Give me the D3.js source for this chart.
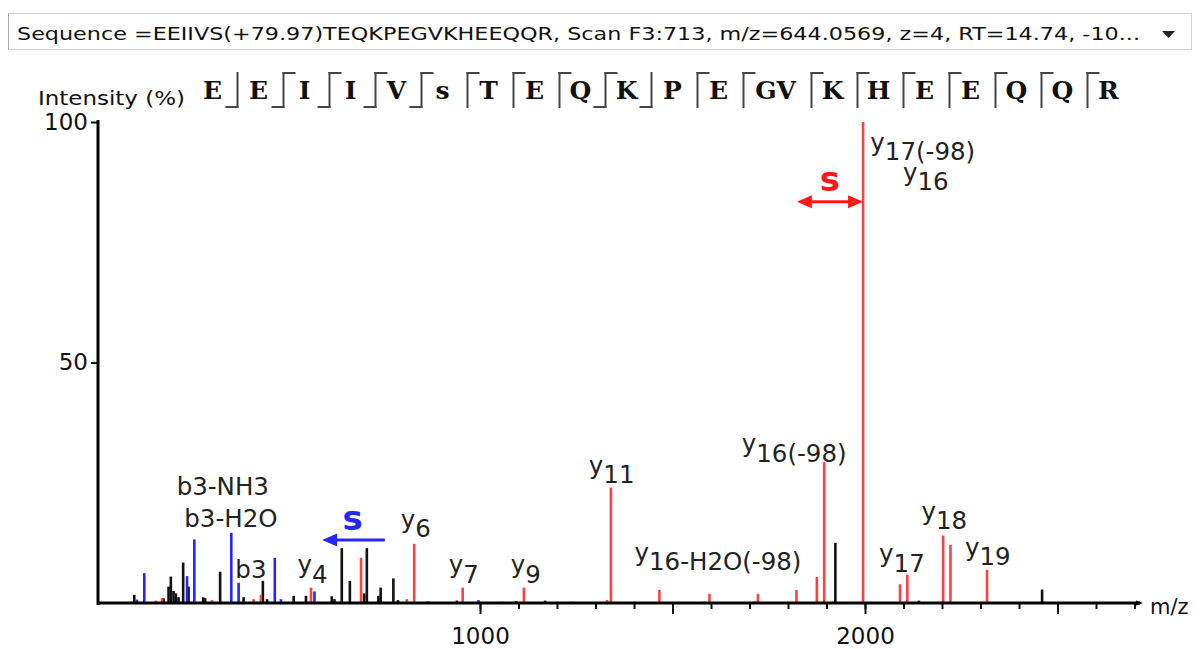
<!DOCTYPE html>
<html><head><meta charset="utf-8">
<script src="https://cdn.jsdelivr.net/npm/d3@7"></script>
<style>body{margin:0;background:#fff}svg{display:block}</style>
</head><body>
<svg id="c" width="1200" height="649"></svg>
<script>
// ---------- data ----------
const headerText = "Sequence =EEIIVS(+79.97)TEQKPEGVKHEEQQR, Scan F3:713, m/z=644.0569, z=4, RT=14.74, -10...";
const residues = ["E","E","I","I","V","s","T","E","Q","K","P","E","GV","K","H","E","E","Q","Q","R"];
const cleavages = ["b","by","by","by","by","y","y","y","by","b","y","y","y","y","y","y","y","y","y"];
const yTickValues = [50, 100];
const xTickLabels = [1000, 2000];
const xMinorTicks = d3.range(1000, 2701, 100);
const xMajorTicks = [1000, 1500, 2000, 2500];

const blueMz  = [109, 128, 239, 258, 354, 373, 467, 483, 570, 996, 1094];
const blueInt = [0.7, 6.2, 5.6, 13.2, 14.6, 4.2, 9.4, 0.8, 2.4, 0.6, 0.4];

const blackMz  = [102, 178, 191, 197, 204, 210, 217, 229, 243, 281, 286, 325, 386, 436, 447, 516, 548, 615, 622, 641, 662, 699, 706, 736, 742, 775, 787, 940, 1169, 1923, 2140, 2460];
const blackInt = [1.7, 1.0, 3.4, 5.5, 2.5, 2.0, 1.2, 8.4, 3.4, 1.2, 1.0, 6.5, 1.2, 4.6, 0.8, 1.5, 1.5, 1.4, 0.8, 11.4, 4.6, 2.0, 11.4, 1.5, 3.2, 5.1, 0.6, 0.5, 0.5, 12.5, 0.5, 2.8];

const redMz  = [158, 174, 304, 412, 431, 561, 691, 810, 829, 865, 955, 1055, 1114, 1240, 1330, 1340, 1466, 1582, 1596, 1714, 1722, 1822, 1875, 1894, 1995, 2091, 2110, 2203, 2222, 2317];
const redInt = [0.5, 1.0, 0.6, 0.8, 1.7, 3.2, 9.4, 0.8, 12.3, 0.4, 3.2, 0.3, 3.2, 0.3, 0.6, 24.0, 2.7, 0.3, 1.9, 0.3, 1.9, 2.7, 5.4, 29.3, 100, 3.9, 5.9, 14.0, 12.1, 6.9];

const labelText = ["b3-NH3","b3-H2O","b3","y4","y6","y7","y9","y11","y16-H2O(-98)","y16(-98)","y17(-98)","y16","y17","y18","y19"];
const labelMz   = [332, 353, 405, 565, 833, 958, 1119, 1342, 1618, 1816, 2150, 2158, 2096, 2206, 2319];
const labelAt   = [22.5, 15.8, 5.2, 4.2, 13.7, 4.2, 4.2, 24.9, 6.9, 29.4, 92.0, 85.8, 6.5, 15.3, 7.9];

// phospho-site shift annotations: [fromMz, toMz, atIntensity, labelMz, labelIntensity]
const blueShift = [753, 590, 13.1, 669, 15.2];
const redShift  = [1823, 1995, 83.4, 1909, 85.7];

// ---------- drawing ----------
const svg = d3.select("#c");
const FONT = "DejaVu Sans, Verdana, sans-serif";
const RED = "#ff4040", BLUE = "#2626ff", BLACK = "#111";

const x = d3.scaleLinear().domain([0, 2700]).range([95, 95 + 0.385 * 2700]);
const y = d3.scaleLinear().domain([0, 100]).range([603, 122]);

// header combobox
svg.append("rect").attr("x", 8.5).attr("y", 13.5).attr("width", 1183).attr("height", 36)
  .attr("fill", "#fff").attr("stroke", "#d4d4d4");
svg.append("line").attr("x1", 8.5).attr("x2", 8.5).attr("y1", 13.5).attr("y2", 49.5)
  .attr("stroke", "#a8a8a8");
const ht = svg.append("text").attr("x", 17).attr("y", 40).attr("font-family", FONT)
  .attr("font-size", 18).attr("fill", "#111").text(headerText);
ht.attr("textLength", 1123).attr("lengthAdjust", "spacingAndGlyphs");
svg.append("path").attr("d", "M1162,31 L1175,31 L1168.5,38 Z").attr("fill", "#222");

// intensity label
svg.append("text").attr("x", 38).attr("y", 105).attr("font-family", FONT)
  .attr("font-size", 19).attr("fill", "#111").attr("textLength", 147)
  .attr("lengthAdjust", "spacingAndGlyphs").text("Intensity (%)");

// sequence with fragment markers
const seq = svg.append("g");
let marker = 238;
let center = 212.5;
residues.forEach((r, i) => {
  const extra = (r.length - 1) * 11;
  if (i > 0) center = marker + 21 + extra;
  seq.append("text").attr("x", center).attr("y", 99).attr("text-anchor", "middle")
    .attr("font-family", "DejaVu Serif, serif").attr("font-weight", "bold")
    .attr("font-size", 25).attr("fill", "#111").text(r);
  if (i < cleavages.length) {
    marker = center + 25 + extra;
    const c = cleavages[i];
    seq.append("line").attr("x1", marker).attr("x2", marker).attr("y1", 72).attr("y2", 108)
      .attr("stroke", "#444").attr("stroke-width", 2);
    if (c.includes("y")) seq.append("line").attr("x1", marker - 1).attr("x2", marker + 12)
      .attr("y1", 73).attr("y2", 73).attr("stroke", "#444").attr("stroke-width", 2);
    if (c.includes("b")) seq.append("line").attr("x1", marker - 12).attr("x2", marker + 1)
      .attr("y1", 107).attr("y2", 107).attr("stroke", "#444").attr("stroke-width", 2);
  }
});

// peaks
function drawPeaks(mz, inten, color) {
  svg.append("g").selectAll("line").data(d3.zip(mz, inten)).join("line")
    .attr("x1", d => x(d[0])).attr("x2", d => x(d[0]))
    .attr("y1", y(0)).attr("y2", d => y(d[1]))
    .attr("stroke", color).attr("stroke-width", 2.6);
}
drawPeaks(blackMz, blackInt, BLACK);
drawPeaks(blueMz, blueInt, BLUE);
drawPeaks(redMz, redInt, RED);

// x axis ticks
const xAxisMinor = d3.axisBottom(x).tickValues(xMinorTicks).tickSize(5).tickFormat("");
const gMinor = svg.append("g").attr("transform", `translate(0,${y(0) + 1})`).call(xAxisMinor);
const xAxisMajor = d3.axisBottom(x).tickValues(xMajorTicks).tickSize(10)
  .tickFormat(d => xTickLabels.includes(d) ? d : "");
const gMajor = svg.append("g").attr("transform", `translate(0,${y(0) + 1})`).call(xAxisMajor);
[gMinor, gMajor].forEach(g => {
  g.select(".domain").remove();
  g.selectAll(".tick line").attr("stroke", "#111").attr("stroke-width", 2);
});
gMajor.selectAll(".tick text").attr("font-family", FONT).attr("font-size", 23)
  .attr("fill", "#111").attr("y", 24).attr("dy", "0.71em");

// y axis ticks
const yAxis = d3.axisLeft(y).tickValues(yTickValues).tickSize(6).tickPadding(3);
const gY = svg.append("g").attr("transform", "translate(97,0)").call(yAxis);
gY.select(".domain").remove();
gY.selectAll(".tick line").attr("stroke", "#111").attr("stroke-width", 2);
gY.selectAll(".tick text").attr("font-family", FONT).attr("font-size", 23).attr("fill", "#111");

// axis lines
svg.append("line").attr("x1", 98).attr("x2", 98).attr("y1", y(100) - 2).attr("y2", y(0) + 2)
  .attr("stroke", "#000").attr("stroke-width", 3);
svg.append("line").attr("x1", 97).attr("x2", 1140).attr("y1", y(0)).attr("y2", y(0))
  .attr("stroke", "#000").attr("stroke-width", 3);
svg.append("path").attr("d", `M1136,${y(0) - 2.5} L1143,${y(0)} L1136,${y(0) + 2.5} Z`).attr("fill", "#000");
svg.append("text").attr("x", 1150).attr("y", 614).attr("font-family", FONT)
  .attr("font-size", 21).attr("fill", "#111").text("m/z");

// peak labels
const lab = svg.append("g").attr("font-family", FONT).attr("font-size", 24.5).attr("fill", "#222");
labelText.forEach((t, i) => {
  const el = lab.append("text").attr("x", x(labelMz[i])).attr("y", y(labelAt[i]))
    .attr("text-anchor", "middle");
  if (t[0] === "y") {
    el.append("tspan").attr("dy", "-0.38em").text("y");
    el.append("tspan").attr("dy", "0.38em").text(t.slice(1));
  } else {
    el.text(t);
  }
});

// phosphosite shift arrows
function shiftArrow(d, color, both) {
  const g = svg.append("g");
  const x1 = x(d[0]), x2 = x(d[1]), yy = y(d[2]);
  const dir = Math.sign(x2 - x1);
  const head = 15, hh = 6.5;
  g.append("line").attr("x1", both ? x1 + dir * head * 0.6 : x1).attr("x2", x2 - dir * head * 0.6)
    .attr("y1", yy).attr("y2", yy).attr("stroke", color).attr("stroke-width", 3);
  g.append("path").attr("d", `M${x2},${yy} L${x2 - dir * head},${yy - hh} L${x2 - dir * head},${yy + hh} Z`)
    .attr("fill", color);
  if (both) g.append("path").attr("d", `M${x1},${yy} L${x1 + dir * head},${yy - hh} L${x1 + dir * head},${yy + hh} Z`)
    .attr("fill", color);
  g.append("text").attr("x", x(d[3])).attr("y", y(d[4])).attr("text-anchor", "middle")
    .attr("font-family", FONT).attr("font-weight", "bold").attr("font-size", 34)
    .attr("fill", color).text("s");
}
shiftArrow(blueShift, BLUE, false);
shiftArrow(redShift, "#ff1a1a", true);
</script>
</body></html>
